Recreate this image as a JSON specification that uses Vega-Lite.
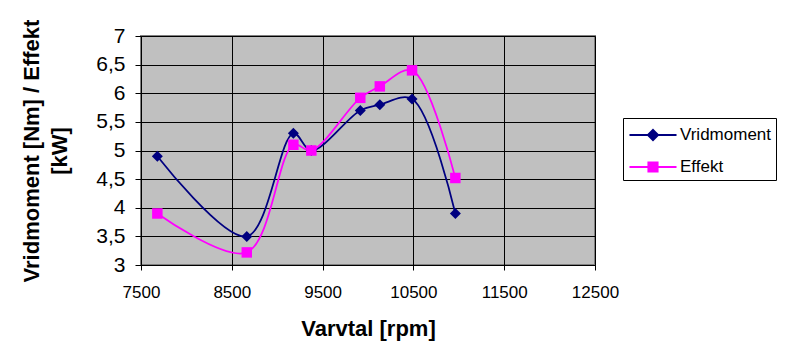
{
  "$schema": "https://vega.github.io/schema/vega-lite/v6.json",
  "width": 454,
  "height": 229,
  "autosize": {"type": "none"},
  "padding": {"left": 141, "top": 36, "right": 204, "bottom": 96},
  "background": "white",
  "config": {
    "font": "Liberation Sans",
    "view": {"fill": "#C0C0C0", "stroke": "#808080", "strokeWidth": 2}
  },
  "data": {
    "values": [
      {"rpm": 7680, "value": 4.9, "series": "Vridmoment"},
      {"rpm": 8665, "value": 3.5, "series": "Vridmoment"},
      {"rpm": 9178, "value": 5.3, "series": "Vridmoment"},
      {"rpm": 9376, "value": 5.0, "series": "Vridmoment"},
      {"rpm": 9915, "value": 5.7, "series": "Vridmoment"},
      {"rpm": 10130, "value": 5.8, "series": "Vridmoment"},
      {"rpm": 10485, "value": 5.9, "series": "Vridmoment"},
      {"rpm": 10962, "value": 3.9, "series": "Vridmoment"},
      {"rpm": 7680, "value": 3.9, "series": "Effekt"},
      {"rpm": 8665, "value": 3.22, "series": "Effekt"},
      {"rpm": 9178, "value": 5.1, "series": "Effekt"},
      {"rpm": 9376, "value": 5.0, "series": "Effekt"},
      {"rpm": 9915, "value": 5.92, "series": "Effekt"},
      {"rpm": 10130, "value": 6.12, "series": "Effekt"},
      {"rpm": 10485, "value": 6.4, "series": "Effekt"},
      {"rpm": 10962, "value": 4.52, "series": "Effekt"}
    ]
  },
  "encoding": {
    "x": {
      "field": "rpm",
      "type": "quantitative",
      "scale": {"domain": [7500, 12500], "nice": false, "zero": false},
      "axis": {
        "values": [7500, 8500, 9500, 10500, 11500, 12500],
        "format": "d",
        "title": "Varvtal [rpm]",
        "labelFontSize": 17,
        "labelColor": "black",
        "labelPadding": 14,
        "labelFlush": false,
        "tickColor": "black",
        "tickSize": 5,
        "domainColor": "black",
        "grid": true,
        "gridColor": "black",
        "gridOpacity": 1,
        "gridWidth": 1,
        "titleFontSize": 22,
        "titleFontWeight": "bold",
        "titleColor": "black",
        "titlePadding": 18
      }
    },
    "y": {
      "field": "value",
      "type": "quantitative",
      "scale": {"domain": [3, 7], "nice": false, "zero": false},
      "axis": {
        "values": [3, 3.5, 4, 4.5, 5, 5.5, 6, 6.5, 7],
        "labelExpr": "replace(format(datum.value, '~g'), '.', ',')",
        "title": ["Vridmoment [Nm] / Effekt", "[kW]"],
        "labelFontSize": 21,
        "labelColor": "black",
        "labelPadding": 10,
        "labelFlush": false,
        "tickColor": "black",
        "tickSize": 6,
        "domainColor": "black",
        "grid": true,
        "gridColor": "black",
        "gridOpacity": 1,
        "gridWidth": 1,
        "titleFontSize": 22,
        "titleFontWeight": "bold",
        "titleColor": "black",
        "titleLineHeight": 28,
        "titlePadding": 24
      }
    },
    "color": {
      "field": "series",
      "type": "nominal",
      "scale": {"domain": ["Vridmoment", "Effekt"], "range": ["#000080", "#FF00FF"]},
      "legend": {
        "orient": "none",
        "legendX": 482,
        "legendY": 82,
        "title": null,
        "padding": 4,
        "strokeColor": "black",
        "fillColor": "white",
        "symbolSize": 576,
        "symbolOffset": 13,
        "labelFontSize": 17,
        "labelColor": "black",
        "labelOffset": 14,
        "rowPadding": 9,
        "encode": {
          "symbols": {
            "update": {
              "shape": {"signal": "datum.value === 'Vridmoment' ? 'M-1.96,0H1.96M0,-0.42L0.42,0L0,0.42L-0.42,0Z' : 'M-1.96,0H1.96M-0.38,-0.38H0.38V0.38H-0.38Z'"},
              "fill": {"signal": "datum.value === 'Vridmoment' ? '#000080' : '#FF00FF'"},
              "stroke": {"signal": "datum.value === 'Vridmoment' ? '#000080' : '#FF00FF'"},
              "strokeWidth": {"value": 2},
              "opacity": {"value": 1}
            }
          }
        }
      }
    }
  },
  "layer": [
    {
      "mark": {"type": "line", "interpolate": "catmull-rom", "strokeWidth": 1.75}
    },
    {
      "transform": [{"filter": "datum.series === 'Vridmoment'"}],
      "mark": {"type": "point", "shape": "diamond", "filled": true, "size": 121, "opacity": 1}
    },
    {
      "transform": [{"filter": "datum.series === 'Effekt'"}],
      "mark": {"type": "point", "shape": "square", "filled": true, "size": 110, "opacity": 1}
    }
  ]
}
